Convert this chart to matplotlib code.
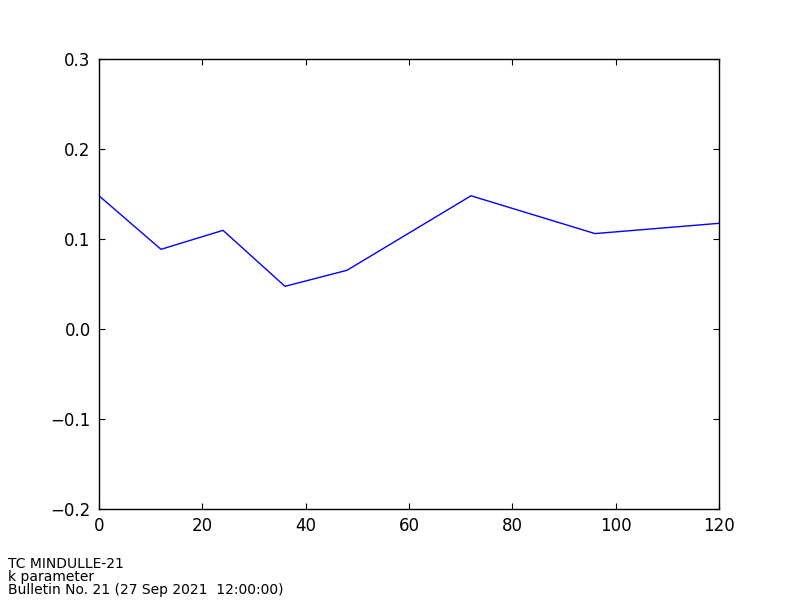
import matplotlib
matplotlib.use('Agg')
import matplotlib.pyplot as plt

hours = [0, 12, 24, 36, 48, 72, 96, 120]
k_values = [0.148, 0.0885, 0.1096, 0.0474, 0.0652, 0.148, 0.106, 0.1174]
caption = ['TC MINDULLE-21', 'k parameter', 'Bulletin No. 21 (27 Sep 2021  12:00:00)']

plt.rcParams['font.family'] = 'DejaVu Sans'
fig = plt.figure(figsize=(8, 6), dpi=100)
ax = fig.add_axes([0.12375, 0.1517, 0.775, 0.75])
ax.plot(hours, k_values, color='b', linewidth=1)
ax.set_xlim(0, 120)
ax.set_ylim(-0.2, 0.3)
ax.set_xticks([0, 20, 40, 60, 80, 100, 120])
ax.set_yticks([-0.2, -0.1, 0.0, 0.1, 0.2, 0.3])
ax.tick_params(direction='in', top=True, right=True, length=4, labelsize=12, pad=6)
for s in ax.spines.values():
    s.set_linewidth(1)

fig.text(0.01, 0.005, '\n'.join(caption), fontsize=10, ha='left', va='bottom', linespacing=0.9)
fig.savefig('out.png', dpi=100)
